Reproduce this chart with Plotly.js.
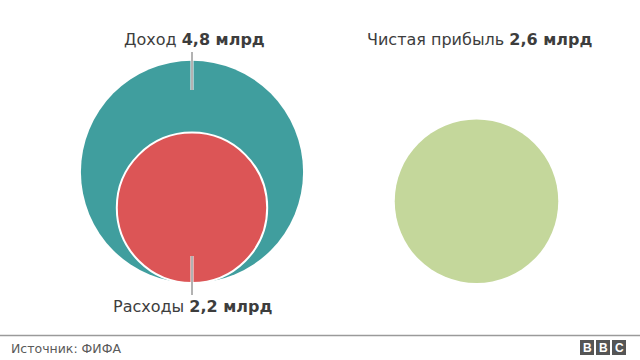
<!DOCTYPE html>
<html>
<head>
<meta charset="utf-8">
<script src="https://cdn.plot.ly/plotly-3.0.1.min.js"></script>
<style>html,body{margin:0;padding:0;background:#fff;}#chart{width:640px;height:360px;}</style>
</head>
<body>
<div id="chart"></div>
<script>
// Data (billions, FIFA)
const categories = ["Доход", "Расходы", "Чистая прибыль"];
const values = [4.8, 2.2, 2.6];
const valueLabels = ["4,8 млрд", "2,2 млрд", "2,6 млрд"];
const colors = ["#409e9e", "#dc5556", "#c4d79b"];

// Layout constants (pixel-like data units, axis 1:1)
const scaleK = 50.7;        // radius = scaleK * sqrt(value)
const baseline = 283;       // circles share a bottom line
const centersX = [192, 192, 476.5];

const radii = values.map(v => scaleK * Math.sqrt(v));
const centersY = radii.map(r => baseline - r);

const traces = values.map((v, i) => ({
  type: "scatter",
  mode: "markers",
  x: [centersX[i]],
  y: [centersY[i]],
  marker: {
    size: 2 * radii[i],
    color: colors[i],
    opacity: 1,
    line: { width: i === 1 ? 2 : 0, color: "#ffffff" }
  },
  hoverinfo: "skip",
  showlegend: false,
  cliponaxis: false
}));

const font = "'DejaVu Sans', 'Liberation Sans', Arial, sans-serif";
const txt = "#3d3d3d";

function leader(x, y0, y1) {
  return [
    { type: "line", xref: "x", yref: "y", x0: x, x1: x, y0: y0, y1: y1, line: { color: "#ffffff", width: 3 }, layer: "above" },
    { type: "line", xref: "x", yref: "y", x0: x, x1: x, y0: y0, y1: y1, line: { color: "#666666", width: 1 }, layer: "above" }
  ];
}

const shapes = [
  ...leader(centersX[0], 52, 90),
  ...leader(centersX[1], 256, 295),
  { type: "line", xref: "paper", yref: "y", x0: 0, x1: 1, y0: 335.5, y1: 335.5, line: { color: "#9a9a9a", width: 1.5 } },
  { type: "rect", xref: "x", yref: "y", x0: 580, x1: 594, y0: 340, y1: 355, fillcolor: "#555555", line: { width: 0 } },
  { type: "rect", xref: "x", yref: "y", x0: 596, x1: 610, y0: 340, y1: 355, fillcolor: "#555555", line: { width: 0 } },
  { type: "rect", xref: "x", yref: "y", x0: 612, x1: 626, y0: 340, y1: 355, fillcolor: "#555555", line: { width: 0 } }
];

function label(i, x, y) {
  return {
    x: x, y: y, xref: "x", yref: "y", showarrow: false,
    text: categories[i] + " <b>" + valueLabels[i] + "</b>",
    font: { family: font, size: 16, color: txt },
    xanchor: "center", yanchor: "middle"
  };
}

const annotations = [
  label(0, 194, 39),
  label(1, 192.5, 306),
  label(2, 479.5, 39),
  { x: 9, y: 348.5, xref: "x", yref: "y", showarrow: false, text: "Источник: ФИФА",
    font: { family: font, size: 12.5, color: "#5a5a5a" }, xanchor: "left", yanchor: "middle" },
  ...["B", "B", "C"].map((c, k) => ({
    x: 587 + 16 * k, y: 348, xref: "x", yref: "y", showarrow: false, text: "<b>" + c + "</b>",
    font: { family: "'Liberation Sans', Arial, sans-serif", size: 12, color: "#ffffff" }, xanchor: "center", yanchor: "middle"
  }))
];

const layout = {
  width: 640, height: 360,
  margin: { l: 0, r: 0, t: 0, b: 0, pad: 0 },
  paper_bgcolor: "#ffffff", plot_bgcolor: "#ffffff",
  xaxis: { range: [0, 640], visible: false, fixedrange: true },
  yaxis: { range: [360, 0], visible: false, fixedrange: true },
  shapes: shapes,
  annotations: annotations,
  showlegend: false
};

Plotly.newPlot("chart", traces, layout, { staticPlot: true, displayModeBar: false });
</script>
</body>
</html>
